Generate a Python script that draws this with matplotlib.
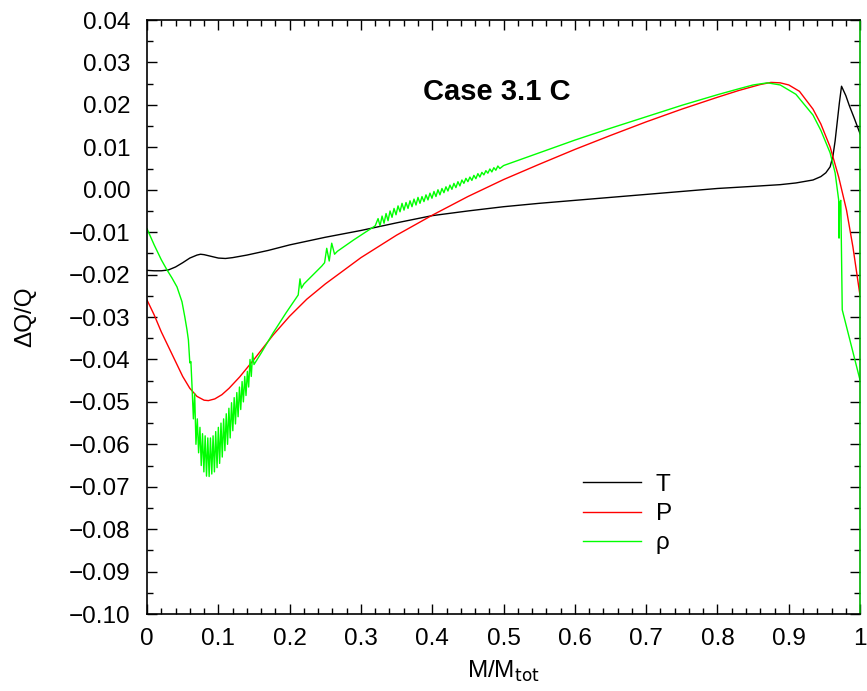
#!/usr/bin/env python3
"""Relative perturbation profiles dQ/Q against mass coordinate (Case 3.1 C)."""

import matplotlib
matplotlib.use("Agg")
import matplotlib.pyplot as plt
from matplotlib.ticker import MultipleLocator, FuncFormatter

plt.rcParams["font.family"] = ["Liberation Sans", "DejaVu Sans"]

# temperature
T_X = [0.0, 0.01, 0.02, 0.03, 0.04, 0.05, 0.06, 0.07, 0.075, 0.08, 0.09, 0.10,
       0.11, 0.12, 0.14, 0.17, 0.20, 0.25, 0.30, 0.35, 0.40, 0.45, 0.50, 0.55,
       0.60, 0.65, 0.70, 0.75, 0.80, 0.85, 0.888, 0.91, 0.934, 0.945, 0.952,
       0.958, 0.962, 0.965, 0.968, 0.971, 0.974, 0.980, 0.985, 0.992, 1.0]
T_Y = [-0.0190, -0.0191, -0.0191, -0.0189, -0.0182, -0.0172, -0.0161, -0.0154,
       -0.0152, -0.0153, -0.0157, -0.0161, -0.0162, -0.0160, -0.0154, -0.0143,
       -0.0130, -0.0112, -0.0096, -0.0078, -0.0061, -0.0050, -0.0040, -0.0032,
       -0.0025, -0.0018, -0.0011, -0.0004, 0.0003, 0.0008, 0.0012, 0.0016,
       0.0023, 0.0031, 0.0040, 0.0054, 0.0080, 0.0115, 0.0160, 0.0205, 0.0244,
       0.0222, 0.0198, 0.0168, 0.0132]

# pressure
P_X = [0.0, 0.01, 0.02, 0.03, 0.04, 0.05, 0.06, 0.07, 0.08, 0.086, 0.095, 0.105,
       0.115, 0.13, 0.15, 0.177, 0.20, 0.224, 0.25, 0.271, 0.30, 0.35, 0.40,
       0.45, 0.50, 0.55, 0.60, 0.65, 0.70, 0.75, 0.80, 0.83, 0.86, 0.875, 0.888,
       0.90, 0.915, 0.934, 0.945, 0.958, 0.970, 0.981, 0.99, 1.0]
P_Y = [-0.0260, -0.0295, -0.0335, -0.0370, -0.0405, -0.0440, -0.0468, -0.0487,
       -0.0496, -0.0497, -0.0493, -0.0483, -0.0468, -0.0441, -0.0400, -0.0342,
       -0.0298, -0.0258, -0.0222, -0.0196, -0.0160, -0.0107, -0.0060, -0.0016,
       0.0024, 0.0060, 0.0095, 0.0128, 0.0160, 0.0190, 0.0218, 0.0234, 0.0248,
       0.0253, 0.0252, 0.0247, 0.0232, 0.0190, 0.0155, 0.0101, 0.0030, -0.0048,
       -0.0135, -0.0250]

# density: descent into the dip
RHO_X_START = [0.0, 0.01, 0.02, 0.028, 0.035, 0.042, 0.049, 0.053, 0.056, 0.058,
               0.060, 0.0615]
RHO_Y_START = [-0.0092, -0.0130, -0.0165, -0.0189, -0.0208, -0.0229, -0.0264,
               -0.0300, -0.0330, -0.0354, -0.0408, -0.0405]

# density: oscillating minimum
RHO_X_DIP = [0.0630, 0.0650, 0.0668, 0.0686, 0.0705, 0.0723, 0.0742, 0.0760,
             0.0778, 0.0797, 0.0815, 0.0834, 0.0852, 0.0871, 0.0889, 0.0908,
             0.0926, 0.0945, 0.0963, 0.0982, 0.1000, 0.1018, 0.1037, 0.1055,
             0.1074, 0.1092, 0.1111, 0.1129, 0.1148, 0.1166, 0.1185, 0.1203,
             0.1222, 0.1240, 0.1259, 0.1277, 0.1296, 0.1314, 0.1333, 0.1351,
             0.1370, 0.1388, 0.1407, 0.1425, 0.1444, 0.1462, 0.1481, 0.1500]
RHO_Y_DIP = [-0.0460, -0.0540, -0.0480, -0.0600, -0.0540, -0.0620, -0.0560,
             -0.0650, -0.0575, -0.0665, -0.0580, -0.0675, -0.0585, -0.0676,
             -0.0585, -0.0670, -0.0580, -0.0665, -0.0570, -0.0655, -0.0560,
             -0.0645, -0.0550, -0.0630, -0.0540, -0.0615, -0.0528, -0.0600,
             -0.0515, -0.0585, -0.0502, -0.0568, -0.0490, -0.0552, -0.0478,
             -0.0535, -0.0465, -0.0518, -0.0452, -0.0500, -0.0440, -0.0485,
             -0.0428, -0.0465, -0.0400, -0.0440, -0.0385, -0.0412]

# density: climb with small spikes
RHO_X_MID = [0.160, 0.177, 0.195, 0.212, 0.2145, 0.2165, 0.220, 0.245, 0.249,
             0.252, 0.2555, 0.259, 0.263, 0.267, 0.290, 0.320]
RHO_Y_MID = [-0.0385, -0.0337, -0.0290, -0.0248, -0.0210, -0.0232, -0.0222,
             -0.0180, -0.0172, -0.0138, -0.0168, -0.0126, -0.0152, -0.0145,
             -0.0118, -0.0085]

# density: small ripples
RHO_X_RIP = [0.3240, 0.3268, 0.3296, 0.3324, 0.3352, 0.3380, 0.3408, 0.3436,
             0.3464, 0.3492, 0.3520, 0.3548, 0.3576, 0.3604, 0.3632, 0.3660,
             0.3688, 0.3716, 0.3744, 0.3772, 0.3800, 0.3828, 0.3856, 0.3884,
             0.3912, 0.3940, 0.3968, 0.3996, 0.4024, 0.4052, 0.4080, 0.4108,
             0.4136, 0.4164, 0.4192, 0.4220, 0.4248, 0.4276, 0.4304, 0.4332,
             0.4360, 0.4388, 0.4416, 0.4444, 0.4472, 0.4500, 0.4528, 0.4556,
             0.4584, 0.4612, 0.4640, 0.4668, 0.4696, 0.4724, 0.4752, 0.4780,
             0.4808, 0.4836, 0.4864, 0.4892, 0.4920, 0.4948]
RHO_Y_RIP = [-0.0068, -0.0085, -0.0062, -0.0079, -0.0056, -0.0073, -0.0050,
             -0.0065, -0.0044, -0.0059, -0.0038, -0.0052, -0.0032, -0.0048,
             -0.0030, -0.0044, -0.0026, -0.0040, -0.0022, -0.0036, -0.0018,
             -0.0032, -0.0016, -0.0028, -0.0012, -0.0024, -0.0008, -0.0020,
             -0.0004, -0.0016, 0.0000, -0.0012, 0.0003, -0.0007, 0.0007,
             -0.0003, 0.0011, 0.0001, 0.0015, 0.0005, 0.0019, 0.0009, 0.0023,
             0.0015, 0.0027, 0.0019, 0.0030, 0.0022, 0.0034, 0.0026, 0.0038,
             0.0030, 0.0041, 0.0035, 0.0045, 0.0039, 0.0049, 0.0042, 0.0052,
             0.0046, 0.0056, 0.0050]

# density: outer part
RHO_X_END = [0.50, 0.55, 0.60, 0.65, 0.70, 0.75, 0.80, 0.83, 0.85, 0.87, 0.888,
             0.91, 0.934, 0.945, 0.958, 0.965, 0.970, 0.9705, 0.9715, 0.973,
             0.975, 1.0]
RHO_Y_END = [0.0057, 0.0087, 0.0117, 0.0145, 0.0172, 0.0199, 0.0224, 0.0238,
             0.0247, 0.0252, 0.0247, 0.0225, 0.0176, 0.0140, 0.0087, 0.0040,
             -0.0024, -0.0114, -0.0030, -0.0025, -0.0283, -0.0449]

RHO_X = RHO_X_START + RHO_X_DIP + RHO_X_MID + RHO_X_RIP + RHO_X_END
RHO_Y = RHO_Y_START + RHO_Y_DIP + RHO_Y_MID + RHO_Y_RIP + RHO_Y_END


def ytick_fmt(v, _pos):
    s = f"{v:.2f}"
    if s == "-0.00":
        s = "0.00"
    return s.replace("-", "\u2212")


def main() -> None:
    fig = plt.figure(figsize=(8.67, 6.91), dpi=100)
    ax = fig.add_axes([0.1696, 0.1114, 0.8224, 0.8596])

    ax.plot(T_X, T_Y, color="black", lw=1.0, label="T")
    ax.plot(P_X, P_Y, color="red", lw=1.0, label="P")
    ax.plot(RHO_X, RHO_Y, color="#00ff00", lw=1.0, label="\u03c1")

    ax.set_xlim(0, 1)
    ax.set_ylim(-0.10, 0.04)
    ax.xaxis.set_minor_locator(MultipleLocator(0.02))
    ax.yaxis.set_major_locator(MultipleLocator(0.01))
    ax.yaxis.set_minor_locator(MultipleLocator(0.005))
    ax.yaxis.set_major_formatter(FuncFormatter(ytick_fmt))
    ax.set_xticks([0, 0.1, 0.2, 0.3, 0.4, 0.5, 0.6, 0.7, 0.8, 0.9, 1.0])
    ax.set_xticklabels(["0", "0.1", "0.2", "0.3", "0.4", "0.5", "0.6", "0.7",
                        "0.8", "0.9", "1"])
    ax.tick_params(which="both", direction="in", top=True, right=True,
                   labelsize=17.5)
    ax.tick_params(which="major", length=7, width=1)
    ax.tick_params(which="minor", length=4, width=1)
    ax.tick_params(axis="y", pad=12)
    ax.tick_params(axis="x", pad=10)
    for side in ax.spines.values():
        side.set_linewidth(1.2)
    ax.spines["right"].set_color("#00b000")

    ax.set_xlabel("M/M$_{\\mathrm{tot}}$", fontsize=17.5)
    ax.set_ylabel("\u0394Q/Q", fontsize=17.5)
    ax.yaxis.set_label_coords(-0.155, 0.5)
    ax.xaxis.set_label_coords(0.5, -0.075)

    ax.text(0.491, 0.0231, "Case 3.1 C", fontsize=21, fontweight="bold",
            ha="center", va="center")

    ax.legend(loc="upper left", bbox_to_anchor=(0.611, 0.236), frameon=False,
              fontsize=17.5, handlelength=2.4, handletextpad=0.6,
              labelspacing=0.3, borderpad=0, borderaxespad=0)

    fig.savefig("out.png", dpi=100)
    plt.close(fig)


if __name__ == "__main__":
    main()
